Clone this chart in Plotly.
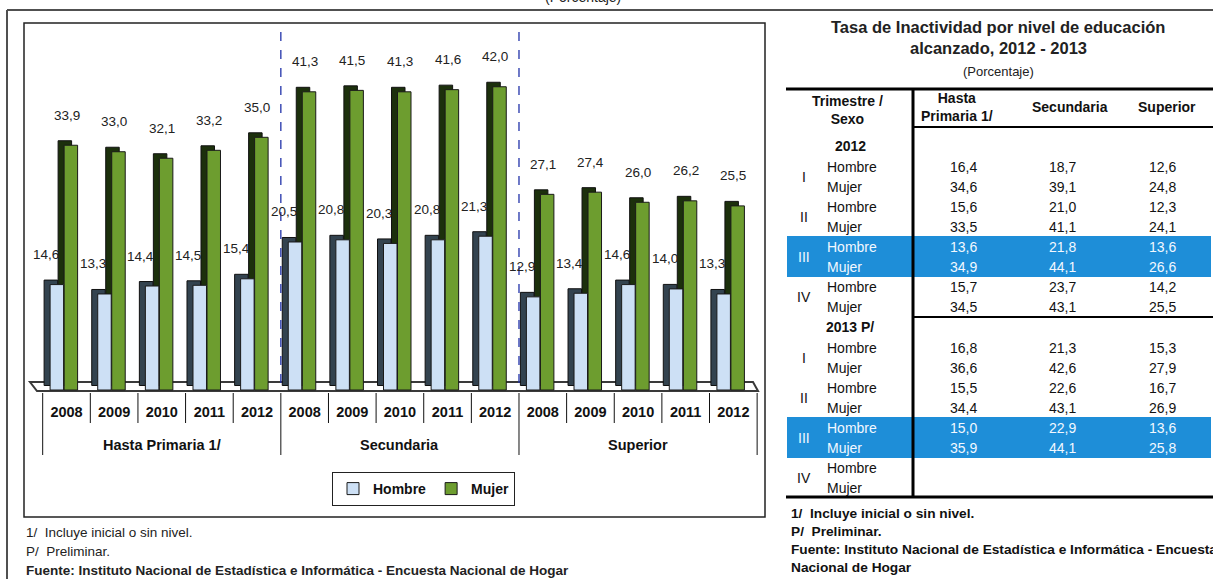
import plotly.graph_objects as go

# ---------------- data ----------------
years = ["2008", "2009", "2010", "2011", "2012"]
niveles = ["Hasta Primaria 1/", "Secundaria", "Superior"]
hombre = [14.6, 13.3, 14.4, 14.5, 15.4, 20.5, 20.8, 20.3, 20.8, 21.3, 12.9, 13.4, 14.6, 14.0, 13.3]
mujer = [33.9, 33.0, 32.1, 33.2, 35.0, 41.3, 41.5, 41.3, 41.6, 42.0, 27.1, 27.4, 26.0, 26.2, 25.5]

tabla_titulo = ["Tasa de Inactividad por nivel de educación", "alcanzado, 2012 - 2013"]
tabla_cols = ["Hasta<br>Primaria 1/", "Secundaria", "Superior"]
trimestres = ["I", "II", "III", "IV"]
sexos = ["Hombre", "Mujer"]
anios_tabla = ["2012", "2013 P/"]
t2012_primaria = [16.4, 34.6, 15.6, 33.5, 13.6, 34.9, 15.7, 34.5]
t2012_secundaria = [18.7, 39.1, 21.0, 41.1, 21.8, 44.1, 23.7, 43.1]
t2012_superior = [12.6, 24.8, 12.3, 24.1, 13.6, 26.6, 14.2, 25.5]
t2013_primaria = [16.8, 36.6, 15.5, 34.4, 15.0, 35.9, None, None]
t2013_secundaria = [21.3, 42.6, 22.6, 43.1, 22.9, 44.1, None, None]
t2013_superior = [15.3, 27.9, 16.7, 26.9, 13.6, 25.8, None, None]
trimestre_destacado = "III"

notas_graf = ["1/  Incluye inicial o sin nivel.", "P/  Preliminar.",
              "<b>Fuente: Instituto Nacional de Estadística e Informática - Encuesta Nacional de Hogar</b>"]
notas_tabla = ["1/  Incluye inicial o sin nivel.", "P/  Preliminar.",
               "Fuente: Instituto Nacional de Estadística e Informática - Encuesta",
               "Nacional de Hogar"]

# ---------------- layout geometry ----------------
W, H = 1213, 579
L, R, T, B = 24, 765, 23, 392
PW, PH = R - L, B - T
CAT = 47.63   # px per category
C0 = 66.5     # px centre of first category
PXU = 7.22    # px per unit
Y0 = 390      # px of zero

def X(px):
    return (px - L) / PW

def Y(py):
    return (B - py) / PH

def fmt(v):
    return "" if v is None else f"{v:.1f}".replace(".", ",")

CH = "Liberation Sans, Arial, Helvetica, sans-serif"
SANS = "Liberation Sans, Arial, Helvetica, sans-serif"

def ann(x, y, text, font, xref="paper", yref="paper", xanchor="center", yanchor="middle", **kw):
    d = dict(x=x, y=y, xref=xref, yref=yref, text=text, showarrow=False,
             xanchor=xanchor, yanchor=yanchor, font=font)
    d.update(kw)
    return d

xs = list(range(len(hombre)))
bw = 13.5 / CAT
depth_x = 6 / CAT
depth_y = 4.5 / PXU
off_m = -2.4 / CAT
off_h = -16.4 / CAT

fig = go.Figure()
fig.add_trace(go.Bar(x=xs, y=mujer, base=depth_y, offset=off_m - depth_x, width=bw,
                     marker=dict(color="#1c300c", line=dict(color="#111", width=1)),
                     showlegend=False, hoverinfo="skip"))
fig.add_trace(go.Bar(x=xs, y=mujer, offset=off_m, width=bw, name="Mujer", legendrank=2,
                     marker=dict(color="#6d9d2f", line=dict(color="#1a1a1a", width=1))))
fig.add_trace(go.Bar(x=xs, y=hombre, base=depth_y, offset=off_h - depth_x, width=bw,
                     marker=dict(color="#33434f", line=dict(color="#111", width=1)),
                     showlegend=False, hoverinfo="skip"))
fig.add_trace(go.Bar(x=xs, y=hombre, offset=off_h, width=bw, name="Hombre", legendrank=1,
                     marker=dict(color="#cde0f5", line=dict(color="#1a1a1a", width=1))))

shapes = []
annotations = []

# floor (3D base)
shapes.append(dict(type="path", xref="x", yref="y", layer="below",
                   path=f"M {(30-C0)/CAT},{(Y0-382)/PXU} L {(753-C0)/CAT},{(Y0-382)/PXU} "
                        f"L {(758-C0)/CAT},{(Y0-391)/PXU} L {(37-C0)/CAT},{(Y0-391)/PXU} Z",
                   fillcolor="white", line=dict(color="#3a3a3a", width=2)))

ng = len(niveles)
ny = len(years)
# group separators (dashed)
for g in range(1, ng):
    shapes.append(dict(type="line", xref="x", yref="paper", x0=g * ny - 0.5, x1=g * ny - 0.5,
                       y0=Y(383), y1=1, line=dict(color="#2233aa", width=1.3, dash="dash")))

# category dividers
for k in range(len(xs) + 1):
    bottom = 455 if k % ny == 0 else 423
    shapes.append(dict(type="line", xref="x", yref="paper", x0=k - 0.5, x1=k - 0.5,
                       y0=Y(393), y1=Y(bottom), line=dict(color="#111", width=1)))

# group labels
for g, name in enumerate(niveles):
    annotations.append(ann(g * ny + (ny - 1) / 2, Y(445), name,
                           dict(family=CH, size=14.5, color="#111", weight="bold"), xref="x"))

# value labels
lab_font = dict(family=CH, size=13.5, color="#222")
for i in xs:
    annotations.append(ann(i, mujer[i], fmt(mujer[i]), lab_font, xref="x", yref="y", yshift=30))
    annotations.append(ann(i - 21 / CAT, hombre[i], fmt(hombre[i]), lab_font, xref="x", yref="y", yshift=30))

# chart box and outer frame
shapes.append(dict(type="rect", xref="paper", yref="paper", x0=X(24), x1=X(765), y0=Y(517), y1=Y(23),
                   line=dict(color="#222", width=1.5)))
shapes.append(dict(type="line", xref="paper", yref="paper", x0=X(7), x1=X(1215), y0=Y(10), y1=Y(10),
                   line=dict(color="#505050", width=2)))
shapes.append(dict(type="line", xref="paper", yref="paper", x0=X(7), x1=X(7), y0=Y(10), y1=Y(585),
                   line=dict(color="#505050", width=2)))

# clipped subtitle at very top
annotations.append(ann(X(583), Y(-3), "(Porcentaje)", dict(family=SANS, size=14, color="#222")))

# chart footnotes
for k, t in enumerate(notas_graf):
    annotations.append(ann(X(24), Y(532 + 19 * k), t, dict(family=CH, size=13.5, color="#222"),
                           xanchor="left"))

# ---------------- table ----------------
TC = 998
title_font = dict(family=SANS, size=16.5, color="#222", weight="bold")
annotations.append(ann(X(TC), Y(27), tabla_titulo[0], title_font))
annotations.append(ann(X(TC), Y(48), tabla_titulo[1], title_font))
annotations.append(ann(X(TC), Y(72), "(Porcentaje)", dict(family=SANS, size=13, color="#222")))

hdr_font = dict(family=SANS, size=14, color="#111", weight="bold")
annotations.append(ann(X(847), Y(110), "Trimestre /<br>Sexo", hdr_font))
col_x = [963, 1062, 1162]
hdr_x = [957, 1070, 1167]
for cx, name in zip(hdr_x, tabla_cols):
    annotations.append(ann(X(cx), Y(107), name, hdr_font))

band_color = "#1e8ed8"
sections = [(146, anios_tabla[0], [t2012_primaria, t2012_secundaria, t2012_superior]),
            (327, anios_tabla[1], [t2013_primaria, t2013_secundaria, t2013_superior])]
for top_y, anio, cols in sections:
    annotations.append(ann(X(850), Y(top_y), anio, hdr_font))
    first = top_y + 21
    for q, tri in enumerate(trimestres):
        hl = tri == trimestre_destacado
        col = "#f2f8ff" if hl else "#111"
        y1 = first + 40 * q
        if hl:
            shapes.append(dict(type="rect", xref="paper", yref="paper", layer="below",
                               x0=X(787), x1=X(1211), y0=Y(y1 - 11), y1=Y(y1 + 30),
                               fillcolor=band_color, line=dict(width=0)))
        annotations.append(ann(X(804), Y(y1 + 10), tri, dict(family=SANS, size=14, color=col)))
        for s, sexo in enumerate(sexos):
            ry = y1 + 20 * s
            annotations.append(ann(X(825), Y(ry), sexo, dict(family=SANS, size=14, color=col),
                                   xanchor="left"))
            for cx, vals in zip(col_x, cols):
                annotations.append(ann(X(cx), Y(ry), fmt(vals[2 * q + s]),
                                       dict(family=SANS, size=14, color=col)))

for (x0, x1, yy, wdt) in [(786, 1215, 89, 3), (913, 1215, 127, 2), (913, 1215, 317, 2), (786, 1215, 497, 3)]:
    shapes.append(dict(type="line", xref="paper", yref="paper", x0=X(x0), x1=X(x1), y0=Y(yy), y1=Y(yy),
                       line=dict(color="#000", width=wdt)))
shapes.append(dict(type="line", xref="paper", yref="paper", x0=X(913), x1=X(913), y0=Y(88), y1=Y(498),
                   line=dict(color="#000", width=3)))

for k, t in enumerate(notas_tabla):
    annotations.append(ann(X(789), Y(513 + 18.3 * k), t,
                           dict(family=SANS, size=13.7, color="#111", weight="bold"), xanchor="left"))

fig.update_layout(
    width=W, height=H, autosize=False,
    margin=dict(l=L, r=W - R, t=T, b=H - B, pad=0),
    paper_bgcolor="white", plot_bgcolor="rgba(0,0,0,0)",
    barmode="overlay",
    showlegend=True,
    legend=dict(orientation="h", x=X(332), y=Y(472), xanchor="left", yanchor="top",
                bordercolor="#222", borderwidth=1, bgcolor="white",
                font=dict(family=CH, size=14, color="#111", weight="bold"),
                itemwidth=30, tracegroupgap=0),
    xaxis=dict(range=[(L - C0) / CAT, (R - C0) / CAT], tickvals=xs, ticktext=years * ng,
               ticks="", showgrid=False, zeroline=False, showline=False, ticklabelstandoff=9,
               tickfont=dict(family=CH, size=14.5, color="#111", weight="bold"), fixedrange=True),
    yaxis=dict(range=[(Y0 - B) / PXU, (Y0 - T) / PXU], visible=False, fixedrange=True),
    shapes=shapes, annotations=annotations,
)

fig.write_html("out.html", config={"displayModeBar": False},
               post_script="document.body.style.margin='0px';document.body.style.padding='0px';")
